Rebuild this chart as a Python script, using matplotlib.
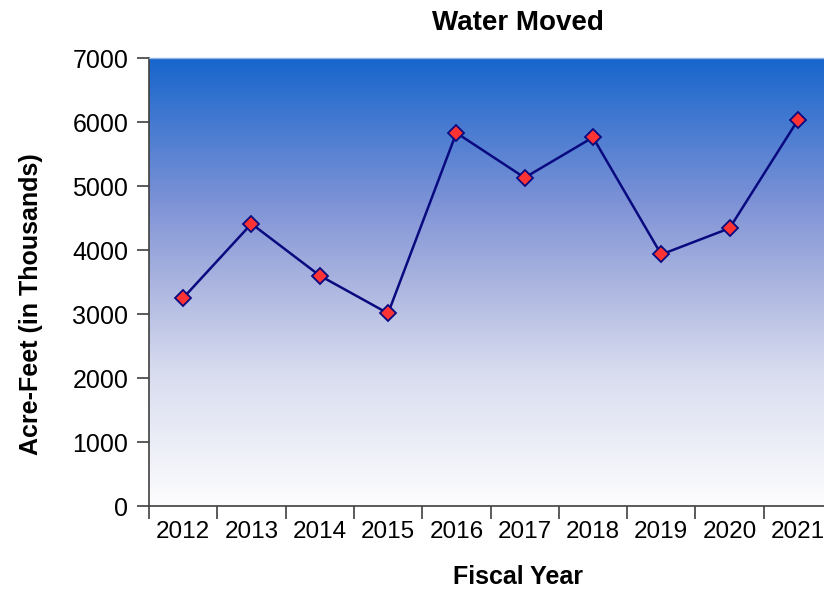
import numpy as np
import matplotlib
matplotlib.use('Agg')
from matplotlib import pyplot as plt
from matplotlib.colors import LinearSegmentedColormap

# ------------ DATA
years = ['2012', '2013', '2014', '2015', '2016', '2017', '2018', '2019', '2020', '2021']
acre_feet = [3250, 4410, 3600, 3010, 5830, 5130, 5760, 3930, 4340, 6030]

# ------------ STYLE
plt.rcParams['font.family'] = ['Liberation Sans', 'DejaVu Sans']

fig = plt.figure(figsize=(8.24, 5.95), dpi=100)
ax = fig.add_axes([149 / 824, 89 / 595, 683 / 824, 448 / 595])

# background gradient, blue at top fading to white
grad_cmap = LinearSegmentedColormap.from_list(
    'bg', [(0.0, '#fdfdfe'), (0.3, '#d8dcef'), (0.5, '#aab4df'),
           (0.68, '#7d92d6'), (1.0, '#1766cc')])
grad = np.linspace(0, 1, 256).reshape(-1, 1)
ax.imshow(grad, cmap=grad_cmap, aspect='auto', origin='lower',
          extent=[0, 1, 0, 1], transform=ax.transAxes, zorder=0)

x = np.arange(len(years))
ax.plot(x, acre_feet, color='#0a0a80', linewidth=1.8, marker='D',
        markersize=8, markerfacecolor='#ff3333', markeredgecolor='#0a0a80',
        markeredgewidth=1.3, zorder=3)

ax.set_xlim(-0.5, len(years) - 0.5)
ax.set_ylim(0, 7000)
ax.set_yticks(range(0, 7001, 1000))

ax.set_xticks(np.arange(-0.5, len(years), 1.0))
ax.set_xticklabels([])
ax.set_xticks(x, minor=True)
ax.set_xticklabels(years, minor=True)
ax.tick_params(axis='x', which='minor', length=0, pad=11, labelsize=17.5)
ax.tick_params(axis='x', which='major', length=9, width=1.2, color='#404040')
ax.tick_params(axis='y', length=9, width=1.2, color='#404040', labelsize=18, pad=6)

for side in ['left', 'bottom']:
    ax.spines[side].set_color('#404040')
    ax.spines[side].set_linewidth(1.2)
ax.spines['top'].set_color('#8fb4e3')
ax.spines['top'].set_linewidth(1.0)
ax.spines['right'].set_visible(False)

ax.set_title('Water Moved', fontsize=20, fontweight='bold', pad=20, x=0.54)
ax.set_xlabel('Fiscal Year', fontsize=18, fontweight='bold', labelpad=16, x=0.54)
ax.set_ylabel('Acre-Feet (in Thousands)', fontsize=18, fontweight='bold', labelpad=21, y=0.45)

fig.savefig('out.png', dpi=100)
